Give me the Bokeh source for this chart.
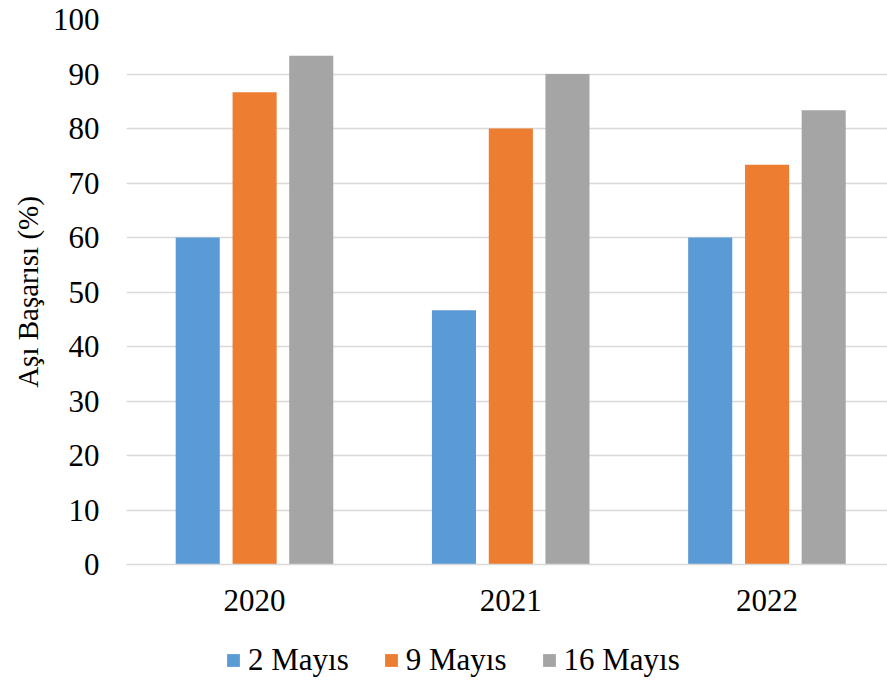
from bokeh.plotting import figure
from bokeh.layouts import column
from bokeh.models import ColumnDataSource, Legend, LegendItem, FixedTicker, Range1d
from bokeh.transform import dodge
from bokeh.embed import file_html
from bokeh.resources import INLINE

years = ["2020", "2021", "2022"]
may_2 = [60.0, 46.67, 60.0]
may_9 = [86.67, 80.0, 73.33]
may_16 = [93.33, 90.0, 83.33]
series_names = ["2 Mayıs", "9 Mayıs", "16 Mayıs"]
colors = ["#5B9BD5", "#ED7D31", "#A5A5A5"]
y_ticks = list(range(0, 101, 10))

# each year sits in the middle of a unit-wide slot
x_pos = [i + 0.5 for i in range(len(years))]
source = ColumnDataSource(data=dict(x=x_pos, may_2=may_2, may_9=may_9, may_16=may_16))
cols = ["may_2", "may_9", "may_16"]

FONT = "Liberation Serif"

p = figure(
    x_range=Range1d(0, 2.97),
    y_range=Range1d(0, 100),
    width=887,
    height=630,
    output_backend="svg",
    toolbar_location=None,
    min_border_left=126,
    min_border_right=0,
    min_border_top=19,
    min_border_bottom=66,
)
p.outline_line_color = None

bar_w = 0.172
offsets = [-0.222, 0.0, 0.221]
for col, off, c in zip(cols, offsets, colors):
    p.vbar(x=dodge("x", off), top=col, width=bar_w,
           source=source, fill_color=c, line_color=None)

# axes and grid
p.xgrid.grid_line_color = None
p.ygrid.grid_line_color = "#d9d9d9"
p.ygrid.grid_line_width = 1.5
p.yaxis.ticker = FixedTicker(ticks=y_ticks)
p.yaxis.axis_line_color = None
p.yaxis.major_tick_line_color = None
p.yaxis.minor_tick_line_color = None
p.yaxis.major_label_standoff = 21
p.yaxis.major_label_text_font = FONT
p.yaxis.major_label_text_font_size = "31px"
p.yaxis.major_label_text_color = "#000000"
p.yaxis.axis_label = "Aşı Başarısı (%)"
p.yaxis.axis_label_text_font = FONT
p.yaxis.axis_label_text_font_size = "29px"
p.yaxis.axis_label_text_font_style = "normal"
p.yaxis.axis_label_text_color = "#000000"
p.yaxis.axis_label_standoff = 6

p.xaxis.ticker = FixedTicker(ticks=x_pos)
p.xaxis.major_label_overrides = {x: y for x, y in zip(x_pos, years)}
p.xaxis.axis_line_color = "#d9d9d9"
p.xaxis.axis_line_width = 1.5
p.xaxis.major_tick_line_color = None
p.xaxis.minor_tick_line_color = None
p.xaxis.major_label_standoff = 19
p.xaxis.major_label_text_font = FONT
p.xaxis.major_label_text_font_size = "31px"
p.xaxis.major_label_text_color = "#000000"

# legend strip below the chart; its swatches come from hidden copies of the bars
leg = figure(
    x_range=Range1d(0, 1),
    y_range=Range1d(0, 1),
    width=887,
    height=54,
    output_backend="svg",
    toolbar_location=None,
    min_border=0,
)
leg.axis.visible = False
leg.grid.visible = False
leg.outline_line_color = None
leg_renderers = []
for col, c in zip(cols, colors):
    r = leg.vbar(x="x", top=col, width=bar_w, source=source,
                 fill_color=c, line_color=None)
    r.visible = False
    leg_renderers.append(r)

legend = Legend(
    items=[LegendItem(label=n, renderers=[r]) for n, r in zip(series_names, leg_renderers)],
    orientation="horizontal",
    location=(99, 6),
    label_text_font=FONT,
    label_text_font_size="31px",
    label_text_color="#000000",
    glyph_width=16,
    glyph_height=16,
    label_standoff=7,
    spacing=34,
    border_line_color=None,
    background_fill_alpha=0,
    margin=0,
    padding=0,
)
leg.add_layout(legend, "center")

open("out.html", "w").write(file_html(column(p, leg, spacing=0), INLINE))
